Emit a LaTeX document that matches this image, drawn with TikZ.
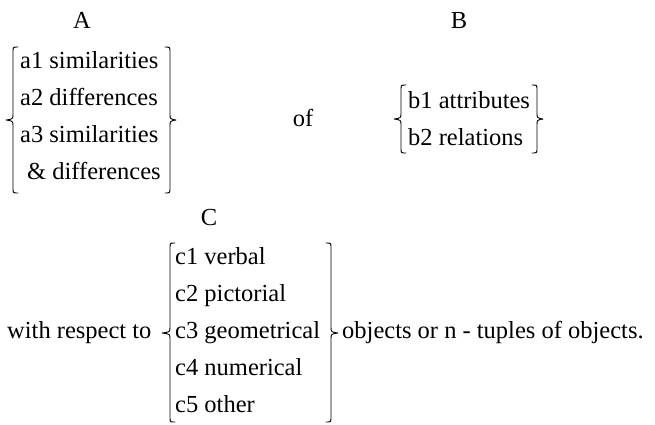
\documentclass[tikz,border=0pt]{standalone}
\usepackage{fontspec}
\setmainfont{Liberation Serif}
% #1 tip x, #2 stem x, #3 hook-end x, #4 top y, #5 tip y, #6 bottom y
\newcommand{\mybrace}[6]{%
  \draw[brc] (#3,#4) .. controls (#2,#4) .. (#2,#4+5) -- (#2,#5-6)
    .. controls (#2,#5-1) .. (#1,#5) .. controls (#2,#5+1) .. (#2,#5+6)
    -- (#2,#6-5) .. controls (#2,#6) .. (#3,#6);}
\begin{document}
\begin{tikzpicture}[x=1pt,y=-1pt,
  txt/.style={anchor=base west, inner sep=0pt, font=\fontsize{24.5}{30}\selectfont},
  lbl/.style={anchor=base, inner sep=0pt, font=\fontsize{24.5}{30}\selectfont},
  brc/.style={line width=0.9pt, line cap=round, line join=round}]
\useasboundingbox (0,0) rectangle (655,424);
% group A
\node[lbl] (A) at (82,28) {A};
\node[txt] (a1) at (20,68) {a1 similarities};
\node[txt] (a2) at (20,105) {a2 differences};
\node[txt] (a3) at (20,142) {a3 similarities};
\node[txt] (a4) at (27,179) {\& differences};
\mybrace{6}{13}{18}{47}{120}{193}
\mybrace{176}{170}{165}{47}{120}{193}
% of
\node[lbl] (of) at (303,126) {of};
% group B
\node[lbl] (B) at (459,28) {B};
\node[txt] (b1) at (408,108) {b1 attributes};
\node[txt] (b2) at (408,145) {b2 relations};
\mybrace{394}{401}{406}{85}{119}{153}
\mybrace{543}{537}{532}{85}{119}{153}
% group C
\node[lbl] (C) at (209,225) {C};
\node[txt] (wrt) at (7,338) {with respect to};
\node[txt] (c1) at (175,264) {c1 verbal};
\node[txt] (c2) at (175,301) {c2 pictorial};
\node[txt] (c3) at (175,338) {c3 geometrical};
\node[txt] (c4) at (175,375) {c4 numerical};
\node[txt] (c5) at (175,412) {c5 other};
\mybrace{162}{170}{175}{243}{333}{422}
\mybrace{338}{331}{326}{243}{333}{422}
\node[txt] (obj) at (342,338) {objects or n - tuples of objects.};
\end{tikzpicture}
\end{document}
